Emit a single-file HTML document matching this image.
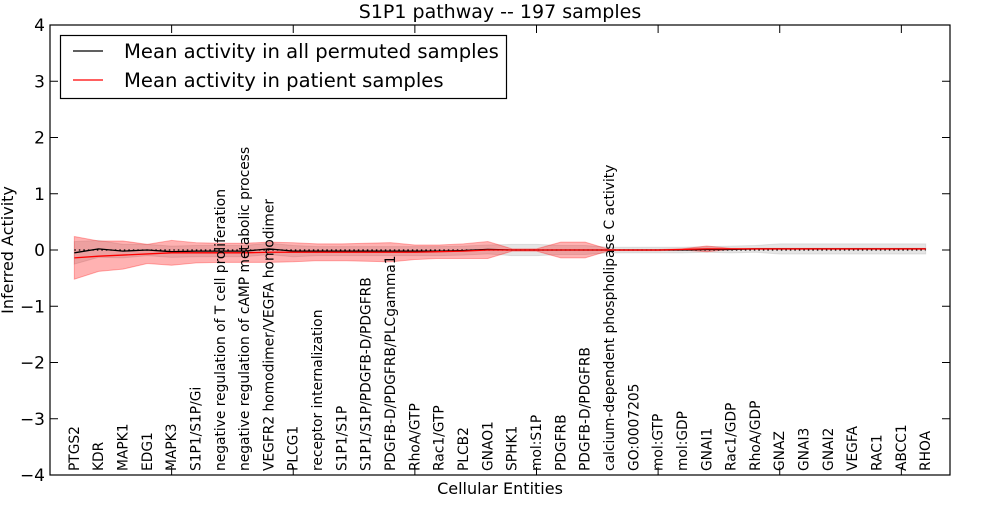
<!DOCTYPE html>
<html><head><meta charset="utf-8"><style>
body{margin:0;background:#fff}
svg{font-family:"DejaVu Sans","Liberation Sans",sans-serif}
</style></head><body>
<svg id="chart" width="1000" height="500">
<rect width="1000" height="500" fill="#fff"/>
<g id="plot"></g>
<text x="500" y="18" text-anchor="middle" font-size="19">S1P1 pathway -- 197 samples</text>
<text x="500" y="494" text-anchor="middle" font-size="16">Cellular Entities</text>
<text x="13" y="250" text-anchor="middle" font-size="16" transform="rotate(-90 13 250)">Inferred Activity</text>
<g>
<rect x="60.5" y="35.5" width="446" height="63" fill="#fff" stroke="#000" stroke-width="1.2"/>
<line x1="73" x2="103" y1="51" y2="51" stroke="#000" stroke-width="1.3"/>
<text x="124" y="58" font-size="19.6">Mean activity in all permuted samples</text>
<line x1="73" x2="103" y1="80" y2="80" stroke="#f00" stroke-width="1.3"/>
<text x="124" y="87" font-size="19.6">Mean activity in patient samples</text>
</g>
</svg>
<script>
const categories=["PTGS2","KDR","MAPK1","EDG1","MAPK3","S1P1/S1P/Gi","negative regulation of T cell proliferation","negative regulation of cAMP metabolic process","VEGFR2 homodimer/VEGFA homodimer","PLCG1","receptor internalization","S1P1/S1P","S1P1/S1P/PDGFB-D/PDGFRB","PDGFB-D/PDGFRB/PLCgamma1","RhoA/GTP","Rac1/GTP","PLCB2","GNAO1","SPHK1","mol:S1P","PDGFRB","PDGFB-D/PDGFRB","calcium-dependent phospholipase C activity","GO:0007205","mol:GTP","mol:GDP","GNAI1","Rac1/GDP","RhoA/GDP","GNAZ","GNAI3","GNAI2","VEGFA","RAC1","ABCC1","RHOA"];
const patientMean=[-0.14,-0.11,-0.09,-0.07,-0.05,-0.05,-0.05,-0.05,-0.04,-0.04,-0.04,-0.04,-0.04,-0.04,-0.04,-0.03,-0.02,0,0,0,0,0,0,0,0,0.01,0.02,0.02,0.02,0.02,0.02,0.02,0.02,0.02,0.02,0.02];
const patientSd=[0.38,0.27,0.25,0.17,0.22,0.18,0.17,0.17,0.18,0.17,0.15,0.15,0.16,0.17,0.13,0.12,0.13,0.15,0.02,0.02,0.14,0.14,0.01,0.01,0.01,0.01,0.05,0.01,0.01,0.01,0.01,0.01,0.01,0.01,0.01,0.01];
const permMean=[-0.05,0.02,-0.02,0,-0.03,-0.02,-0.02,-0.02,0.02,-0.02,-0.02,-0.02,-0.02,-0.02,-0.02,-0.02,-0.01,0.01,0,0,0,0,0,0,0,0,0.01,0.01,0.02,0.02,0.02,0.02,0.02,0.02,0.02,0.02];
const permSd=[0.2,0.15,0.12,0.1,0.1,0.1,0.1,0.1,0.1,0.1,0.08,0.08,0.08,0.08,0.08,0.08,0.08,0.08,0.1,0.1,0.08,0.08,0.05,0.05,0.05,0.05,0.05,0.06,0.06,0.09,0.09,0.09,0.09,0.09,0.09,0.09];
const yTicks=[-4,-3,-2,-1,0,1,2,3,4];
const xTicks=[0,5,10,15,20,25,30,35];

const L=50,R=950,T=25,B=475;
const X=v=>L+(v/37)*(R-L);
const Y=v=>B-(v+4)/8*(B-T);
const NS="http://www.w3.org/2000/svg";
const g=document.getElementById('plot');
function mk(tag,attrs,parent){const e=document.createElementNS(NS,tag);for(const k in attrs)e.setAttribute(k,attrs[k]);(parent||g).appendChild(e);return e;}

function band(mean,sd,fill,op,name){
  let up=mean.map((m,i)=>X(i+1)+','+Y(m+sd[i]));
  let dn=mean.map((m,i)=>X(i+1)+','+Y(m-sd[i])).reverse();
  const p=mk('polygon',{points:up.concat(dn).join(' '),fill:fill,'fill-opacity':op,stroke:fill,'stroke-opacity':op,'stroke-width':1});
  
  
}
function line(mean,color,name){
  const p=mk('polyline',{points:mean.map((m,i)=>X(i+1)+','+Y(m)).join(' '),fill:'none',stroke:color,'stroke-width':1.3});
  
  
}
band(permMean,permSd,'#999',0.25,'permuted-band');
band(patientMean,patientSd,'#f00',0.3,'patient-band');
const z=mk('line',{x1:X(1),x2:X(36),y1:Y(0),y2:Y(0),stroke:'#000','stroke-dasharray':'1.5,3','stroke-width':1.2});


line(permMean,'#000','permuted-mean-line');
line(patientMean,'#f00','patient-mean-line');

categories.forEach((c,i)=>{
  const x=X(i+1)+4.5;
  const t=mk('text',{x:x,y:471,transform:`rotate(-90 ${x} 471)`,'font-size':13.8,fill:'#000'});
  t.textContent=c;
  
  
});
const f=mk('rect',{x:L,y:T,width:R-L,height:B-T,fill:'none',stroke:'#000','stroke-width':1.2});


yTicks.forEach(v=>{
  mk('line',{x1:L,x2:L+8,y1:Y(v),y2:Y(v),stroke:'#000'});
  mk('line',{x1:R-8,x2:R,y1:Y(v),y2:Y(v),stroke:'#000'});
  const t=mk('text',{x:L-5,y:Y(v)+6,'text-anchor':'end','font-size':17});
  t.textContent=(v<0?'\u2212':'')+Math.abs(v);
  
  
});
xTicks.forEach(v=>{
  mk('line',{x1:X(v),x2:X(v),y1:T,y2:T+8,stroke:'#000'});
  mk('line',{x1:X(v),x2:X(v),y1:B-8,y2:B,stroke:'#000'});
});
</script>
</body></html>
